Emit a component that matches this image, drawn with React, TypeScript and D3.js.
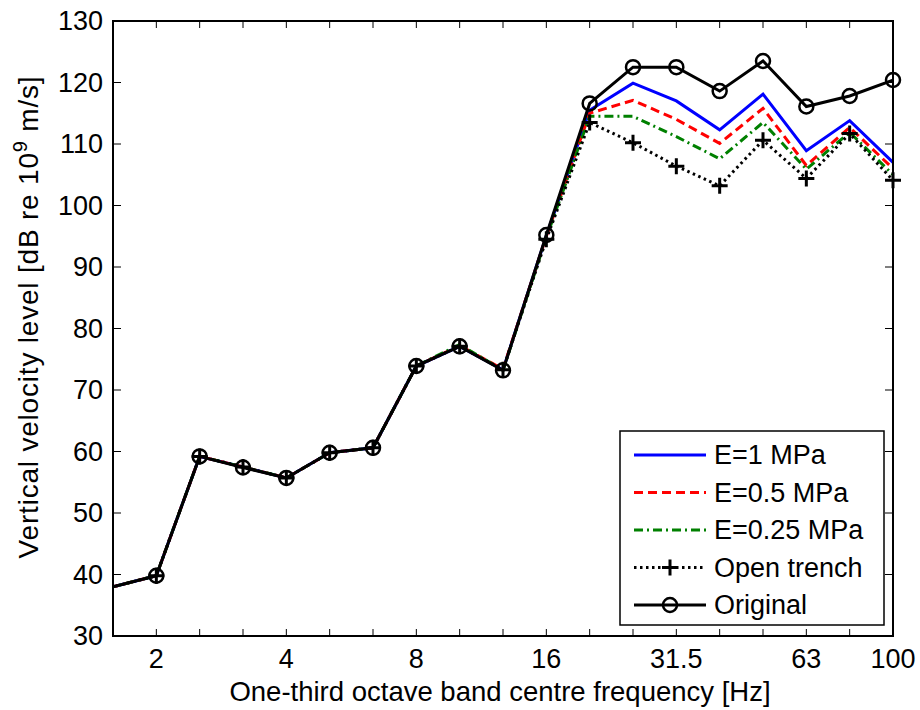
import React from "react";
import * as d3 from "d3";

// One-third octave bands; the first (1.25 Hz) lies left of the visible axis
const bands = [1.25, 1.6, 2, 2.5, 3.15, 4, 5, 6.3, 8, 10, 12.5, 16, 20, 25, 31.5, 40, 50, 63, 80, 100];
const tickLabels = ["2", "4", "8", "16", "31.5", "63", "100"];
const yTicks = [30, 40, 50, 60, 70, 80, 90, 100, 110, 120, 130];

const eOne = [36.2, 38.0, 39.8, 59.2, 57.5, 55.7, 59.8, 60.6, 73.9, 77.1, 73.3, 95.1, 115.5, 119.9, 117.0, 112.3, 118.1, 108.9, 113.8, 107.0];
const eHalf = [36.2, 38.0, 39.8, 59.2, 57.5, 55.7, 59.8, 60.6, 73.9, 77.2, 73.4, 95.0, 115.0, 117.1, 114.0, 110.1, 115.8, 106.5, 112.7, 106.0];
const eQuarter = [36.2, 38.0, 39.8, 59.2, 57.5, 55.7, 59.8, 60.6, 73.9, 77.4, 73.2, 94.8, 114.5, 114.5, 111.2, 107.6, 113.5, 105.9, 111.9, 105.0];
const openTrench = [36.2, 38.0, 39.8, 59.2, 57.5, 55.7, 59.8, 60.6, 73.9, 77.1, 73.3, 94.5, 113.5, 110.2, 106.4, 103.2, 110.6, 104.4, 111.7, 104.1];
const original = [36.2, 38.0, 39.8, 59.2, 57.4, 55.7, 59.8, 60.6, 73.9, 77.1, 73.2, 95.2, 116.6, 122.5, 122.5, 118.6, 123.5, 116.1, 117.8, 120.4];

const L = 113, R = 893, T = 21, B = 636;
const FONT = "'Liberation Sans', Arial, sans-serif";

export default function App() {
  // x axis shows bands 1.6 .. 100 (indices 1 .. 19)
  const x = d3.scaleLinear().domain([1, bands.length - 1]).range([L, R]);
  const y = d3.scaleLinear().domain([30, 130]).range([B, T]);
  const line = d3.line<number>().x((_, i) => x(i)).y((d) => y(d));

  const series = [
    { name: "E=1 MPa", data: eOne, color: "#0000ff", dash: "none", marker: "none" },
    { name: "E=0.5 MPa", data: eHalf, color: "#ff0000", dash: "9,5", marker: "none" },
    { name: "E=0.25 MPa", data: eQuarter, color: "#008000", dash: "9,4,2,4", marker: "none" },
    { name: "Open trench", data: openTrench, color: "#000000", dash: "2.5,3.5", marker: "plus" },
    { name: "Original", data: original, color: "#000000", dash: "none", marker: "circle" },
  ];

  const drawMarker = (m: string, cx: number, cy: number, key: string) => {
    if (m === "circle")
      return <circle key={key} cx={cx} cy={cy} r={7} fill="none" stroke="#000" strokeWidth={2.5} />;
    if (m === "plus")
      return (
        <path key={key} d={`M${cx - 8},${cy}H${cx + 8}M${cx},${cy - 8}V${cy + 8}`} stroke="#000" strokeWidth={3} />
      );
    return null;
  };

  const lx = 620, ly = 431, lw = 264, lh = 194;
  const rowH = 37.5;

  return (
    <svg width={920} height={710} style={{ position: "absolute", left: 0, top: 0, background: "#fff" }} fontFamily={FONT}>
      <rect x={0} y={0} width={920} height={710} fill="#fff" />
      <defs>
        <clipPath id="plot">
          <rect x={L} y={T} width={R - L} height={B - T} />
        </clipPath>
      </defs>
      {bands.map((_, i) =>
        x(i) < L - 0.5 ? null : (
          <g key={"xt" + i}>
            <line x1={x(i)} x2={x(i)} y1={B} y2={B - 7} stroke="#000" strokeWidth={1} />
            <line x1={x(i)} x2={x(i)} y1={T} y2={T + 7} stroke="#000" strokeWidth={1} />
          </g>
        )
      )}
      {yTicks.map((v) => (
        <g key={"yt" + v}>
          <line x1={L} x2={L + 8} y1={y(v)} y2={y(v)} stroke="#000" strokeWidth={1} />
          <line x1={R} x2={R - 8} y1={y(v)} y2={y(v)} stroke="#000" strokeWidth={1} />
          <text x={L - 10} y={y(v)} textAnchor="end" dominantBaseline="central" fontSize={27}>
            {v}
          </text>
        </g>
      ))}
      {tickLabels.map((t) => {
        const i = bands.indexOf(parseFloat(t));
        return (
          <text key={"xl" + t} x={x(i)} y={B + 32} textAnchor="middle" fontSize={27}>
            {t}
          </text>
        );
      })}
      <g clipPath="url(#plot)">
        {series.map((s) => (
          <path
            key={s.name}
            d={line(s.data) || ""}
            fill="none"
            stroke={s.color}
            strokeWidth={3}
            strokeDasharray={s.dash}
            strokeLinejoin="miter"
          />
        ))}
      </g>
      {series.map((s) =>
        s.data.map((v, i) => (x(i) <= L + 1 ? null : drawMarker(s.marker, x(i), y(v), s.name + i)))
      )}
      <rect x={L} y={T} width={R - L} height={B - T} fill="none" stroke="#000" strokeWidth={2} />
      <rect x={lx} y={ly} width={lw} height={lh} fill="#fff" stroke="#000" strokeWidth={1.5} />
      {series.map((s, k) => {
        const cy = ly + 24 + k * rowH;
        return (
          <g key={"lg" + k}>
            <line x1={lx + 14} x2={lx + 86} y1={cy} y2={cy} stroke={s.color} strokeWidth={3} strokeDasharray={s.dash} />
            {drawMarker(s.marker, lx + 50, cy, "lm" + k)}
            <text x={lx + 94} y={cy} dominantBaseline="central" fontSize={27}>
              {s.name}
            </text>
          </g>
        );
      })}
      <text x={500} y={701} textAnchor="middle" fontSize={27.5}>
        One-third octave band centre frequency [Hz]
      </text>
      <text transform={`translate(38,317) rotate(-90)`} textAnchor="middle" fontSize={28} letterSpacing={0.8}>
        Vertical velocity level [dB re 10<tspan dy={-11} fontSize={20}>9</tspan>
        <tspan dy={11}> m/s]</tspan>
      </text>
    </svg>
  );
}
